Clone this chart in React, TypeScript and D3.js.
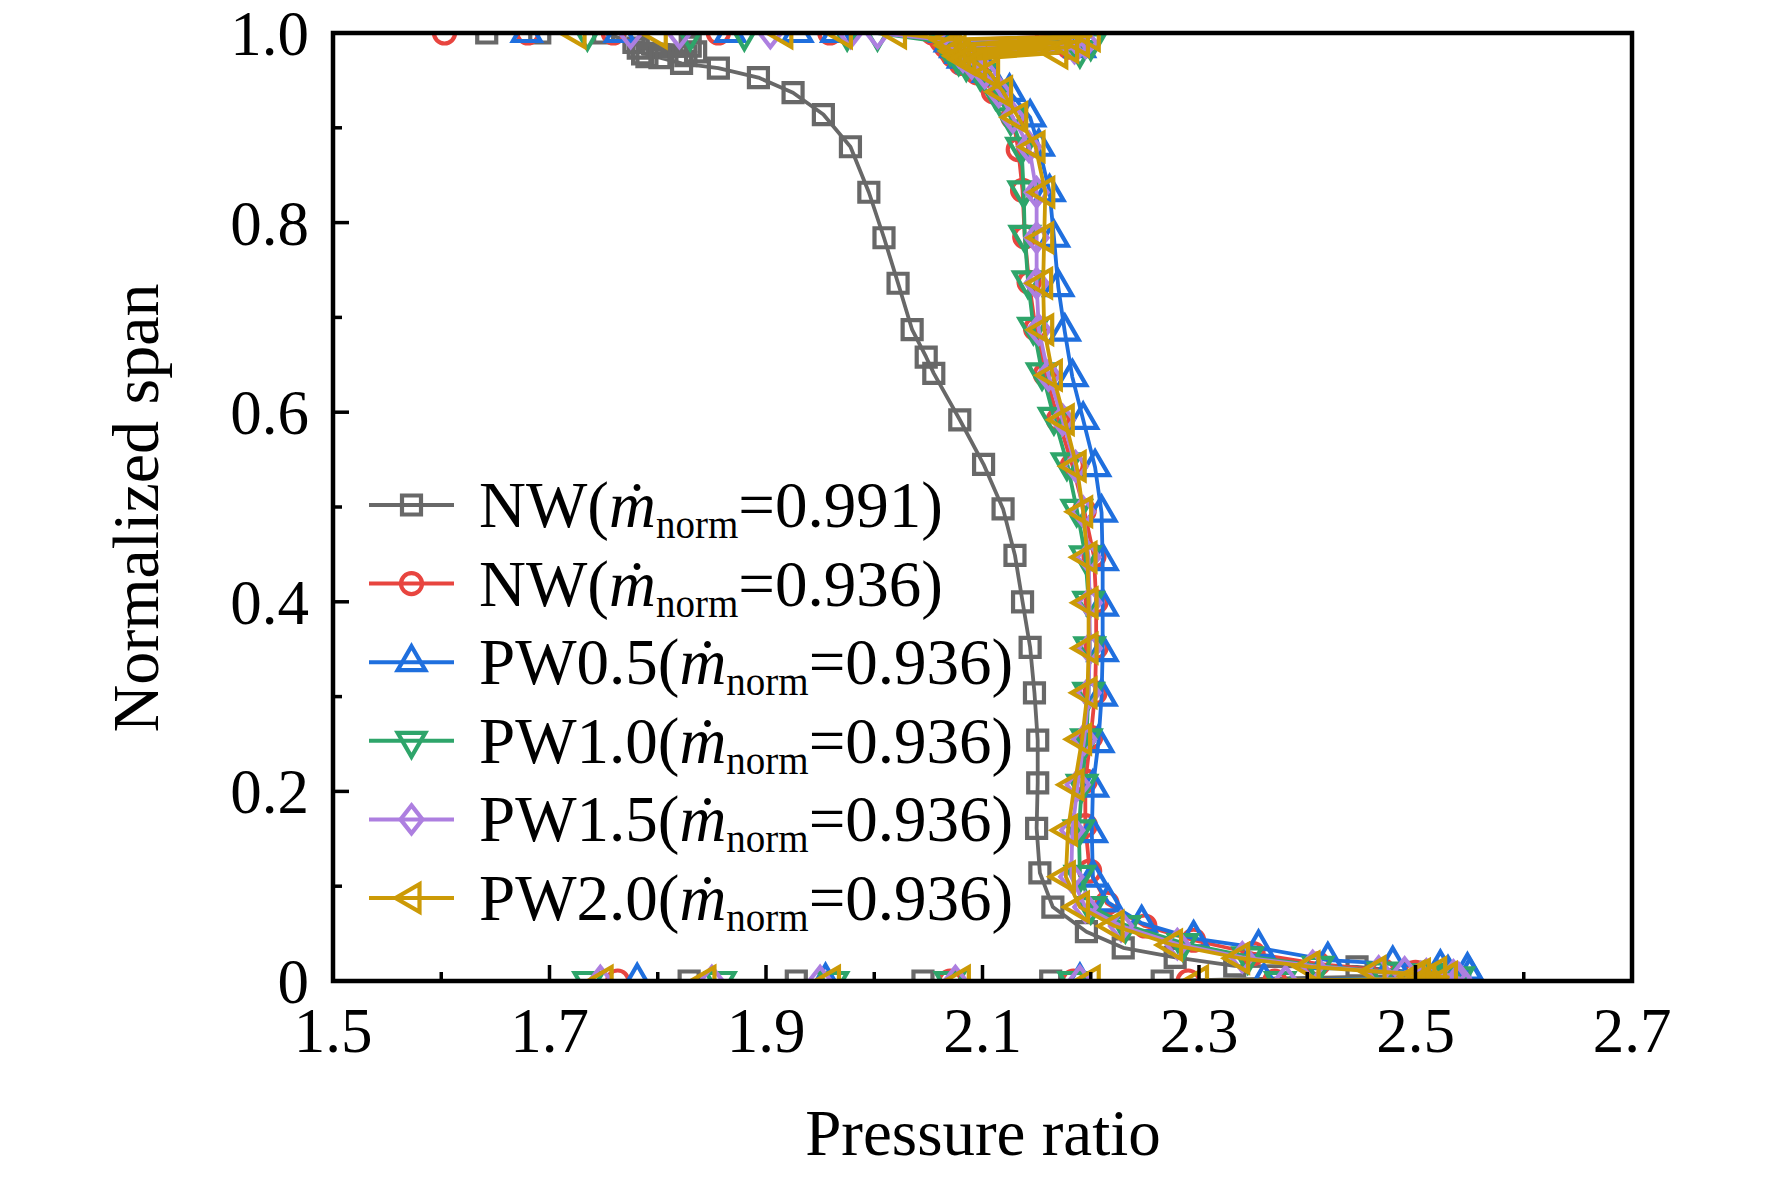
import React from "react";
import * as d3 from "d3";

type P = [number, number];

const X_MAJOR = [1.5, 1.7, 1.9, 2.1, 2.3, 2.5, 2.7];
const X_MINOR = [1.6, 1.8, 2.0, 2.2, 2.4, 2.6];
const Y_MAJOR = [0, 0.2, 0.4, 0.6, 0.8, 1.0];
const Y_LABELS = ["0", "0.2", "0.4", "0.6", "0.8", "1.0"];
const Y_MINOR = [0.1, 0.3, 0.5, 0.7, 0.9];

const SERIES_NAMES = ["NW", "NW", "PW0.5", "PW1.0", "PW1.5", "PW2.0"];
const SERIES_FLOW = ["0.991", "0.936", "0.936", "0.936", "0.936", "0.936"];
const SERIES_COLORS = ["#686868", "#e8453f", "#1f6fde", "#2ea56a", "#ad7fe0", "#cc9a06"];
const SERIES_SYMBOLS = ["square", "circle", "triUp", "triDown", "diamond", "triLeft"];

const NW991: P[] = [
  [1.642, 1], [1.691, 1], [1.75, 1],
  [1.778, 0.99], [1.83, 0.986], [1.782, 0.984], [1.835, 0.98], [1.786, 0.978], [1.826, 0.976], [1.79, 0.975],
  [1.802, 0.974], [1.822, 0.968], [1.856, 0.963], [1.893, 0.953], [1.925, 0.937], [1.953, 0.914],
  [1.978, 0.88], [1.995, 0.832], [2.009, 0.784], [2.022, 0.736], [2.035, 0.687], [2.048, 0.658],
  [2.055, 0.641], [2.079, 0.592], [2.101, 0.545], [2.119, 0.498], [2.13, 0.449], [2.137, 0.4],
  [2.144, 0.352], [2.148, 0.304], [2.151, 0.254], [2.151, 0.209], [2.15, 0.161], [2.153, 0.114],
  [2.165, 0.078], [2.196, 0.052], [2.23, 0.035], [2.278, 0.025], [2.333, 0.016], [2.446, 0.015],
  [2.5, 0.009], [2.52, 0.006],
  [2.266, 0], [2.163, 0], [2.045, 0], [1.928, 0], [1.829, 0],
];

const NW936: P[] = [
  [1.603, 1], [1.68, 1], [1.759, 1], [1.856, 1], [1.959, 1], [2.054, 1],
  [2.062, 0.992], [2.16, 0.996], [2.066, 0.986], [2.17, 0.99], [2.07, 0.981], [2.18, 0.985], [2.073, 0.976],
  [2.08, 0.968], [2.095, 0.958], [2.11, 0.938], [2.128, 0.911], [2.133, 0.877], [2.137, 0.834],
  [2.139, 0.785], [2.143, 0.737], [2.149, 0.688], [2.158, 0.64], [2.17, 0.592], [2.183, 0.544],
  [2.194, 0.496], [2.203, 0.448], [2.205, 0.4], [2.205, 0.352], [2.204, 0.304], [2.2, 0.257],
  [2.195, 0.211], [2.195, 0.164], [2.199, 0.116], [2.215, 0.082], [2.25, 0.058], [2.295, 0.043],
  [2.35, 0.029], [2.41, 0.018], [2.47, 0.011], [2.52, 0.007],
  [2.5, 0.009], [2.53, 0.006], [2.505, 0.004], [2.535, 0.003],
  [2.37, 0], [2.29, 0], [2.184, 0], [2.07, 0], [1.763, 0],
];

const PW05: P[] = [
  [1.679, 1], [1.765, 1], [1.867, 1], [1.929, 1], [1.965, 1], [2.065, 1],
  [2.07, 0.99], [2.17, 0.995], [2.075, 0.984], [2.185, 0.99], [2.08, 0.978], [2.19, 0.984], [2.082, 0.973],
  [2.09, 0.968], [2.105, 0.958], [2.125, 0.938], [2.144, 0.911], [2.152, 0.88], [2.162, 0.832],
  [2.166, 0.784], [2.17, 0.732], [2.176, 0.685], [2.183, 0.637], [2.193, 0.592], [2.204, 0.542],
  [2.21, 0.494], [2.211, 0.443], [2.211, 0.395], [2.211, 0.347], [2.21, 0.3], [2.207, 0.251],
  [2.202, 0.204], [2.201, 0.156], [2.202, 0.109], [2.216, 0.083], [2.247, 0.061], [2.295, 0.045],
  [2.355, 0.035], [2.419, 0.022], [2.479, 0.018], [2.523, 0.014], [2.548, 0.011],
  [2.53, 0.008], [2.55, 0.006], [2.52, 0.004],
  [2.36, 0], [2.19, 0], [1.955, 0], [1.781, 0],
];

const PW10: P[] = [
  [1.735, 1], [1.83, 1], [1.88, 1], [1.975, 1], [2.003, 1],
  [2.065, 0.99], [2.19, 0.996], [2.07, 0.984], [2.2, 0.99], [2.075, 0.979], [2.19, 0.982], [2.078, 0.974],
  [2.085, 0.968], [2.098, 0.958], [2.112, 0.938], [2.126, 0.911], [2.136, 0.88], [2.138, 0.834],
  [2.139, 0.787], [2.142, 0.739], [2.147, 0.69], [2.155, 0.642], [2.166, 0.595], [2.178, 0.547],
  [2.187, 0.498], [2.195, 0.449], [2.198, 0.401], [2.199, 0.353], [2.198, 0.305], [2.196, 0.256],
  [2.192, 0.208], [2.189, 0.16], [2.19, 0.112], [2.2, 0.079], [2.232, 0.059], [2.285, 0.04],
  [2.345, 0.026], [2.41, 0.016], [2.47, 0.01], [2.515, 0.007],
  [2.51, 0.008], [2.54, 0.005], [2.515, 0.003],
  [2.375, 0], [2.184, 0], [2.07, 0], [1.962, 0], [1.858, 0], [1.736, 0],
];

const PW15: P[] = [
  [1.775, 1], [1.82, 1], [1.904, 1], [1.978, 1], [2.003, 1],
  [2.07, 0.992], [2.185, 0.996], [2.074, 0.986], [2.195, 0.99], [2.078, 0.98], [2.185, 0.984], [2.082, 0.975],
  [2.09, 0.968], [2.102, 0.958], [2.115, 0.938], [2.128, 0.911], [2.143, 0.88], [2.15, 0.832],
  [2.15, 0.784], [2.15, 0.736], [2.152, 0.687], [2.161, 0.639], [2.174, 0.592], [2.186, 0.543],
  [2.193, 0.495], [2.198, 0.447], [2.199, 0.399], [2.199, 0.351], [2.198, 0.304], [2.194, 0.255],
  [2.188, 0.207], [2.183, 0.159], [2.182, 0.11], [2.195, 0.078], [2.228, 0.058], [2.28, 0.039],
  [2.34, 0.025], [2.405, 0.016], [2.466, 0.01], [2.51, 0.007],
  [2.49, 0.009], [2.535, 0.006], [2.505, 0.004], [2.54, 0.003],
  [2.38, 0], [2.19, 0], [2.075, 0], [1.95, 0], [1.85, 0], [1.747, 0],
];

const PW20: P[] = [
  [1.725, 1], [1.8, 1], [1.916, 1], [1.971, 1], [2.021, 1],
  [2.068, 0.993], [2.2, 0.997], [2.072, 0.987], [2.19, 0.991], [2.076, 0.981], [2.18, 0.985], [2.08, 0.976],
  [2.17, 0.979], [2.085, 0.972],
  [2.095, 0.968], [2.107, 0.958], [2.119, 0.938], [2.133, 0.911], [2.149, 0.88], [2.158, 0.832],
  [2.157, 0.784], [2.156, 0.736], [2.157, 0.687], [2.165, 0.639], [2.176, 0.592], [2.187, 0.543],
  [2.193, 0.495], [2.197, 0.447], [2.198, 0.399], [2.198, 0.351], [2.197, 0.304], [2.192, 0.255],
  [2.185, 0.207], [2.179, 0.159], [2.177, 0.11], [2.19, 0.078], [2.222, 0.058], [2.276, 0.038],
  [2.338, 0.024], [2.403, 0.015], [2.464, 0.01], [2.505, 0.007],
  [2.52, 0.009], [2.5, 0.005], [2.53, 0.004], [2.51, 0.002],
  [2.3, 0], [2.2, 0], [2.08, 0], [1.96, 0], [1.845, 0], [1.75, 0],
];

const SERIES_DATA: P[][] = [NW991, NW936, PW05, PW10, PW15, PW20];

const W = 1772;
const H = 1177;
const L = 333, R = 1632, T = 33, B = 981;
const FONT = "'Times New Roman', 'Liberation Serif', serif";
const SW = 4.2;

function symbolPath(kind: string): string {
  const r = 16;
  switch (kind) {
    case "square": return "M-9.5,-9.5h19v19h-19Z";
    case "triUp": return `M0,${-r}L${r * 0.866},${r * 0.5}L${-r * 0.866},${r * 0.5}Z`;
    case "triDown": return `M0,${r}L${r * 0.866},${-r * 0.5}L${-r * 0.866},${-r * 0.5}Z`;
    case "triLeft": return `M${-r},0L${r * 0.5},${-r * 0.866}L${r * 0.5},${r * 0.866}Z`;
    case "diamond": return "M0,-14L11,0L0,14L-11,0Z";
    default: return "";
  }
}

function Marker({ kind, x, y, color }: { kind: string; x: number; y: number; color: string }) {
  if (kind === "circle") {
    return <circle cx={x} cy={y} r={10.5} fill="none" stroke={color} strokeWidth={SW} />;
  }
  return <path d={symbolPath(kind)} transform={`translate(${x},${y})`} fill="none" stroke={color} strokeWidth={SW} strokeLinejoin="miter" />;
}

export default function App() {
  const x = d3.scaleLinear().domain([1.5, 2.7]).range([L, R]);
  const y = d3.scaleLinear().domain([0, 1]).range([B, T]);
  const line = d3.line<P>().x((d) => x(d[0])).y((d) => y(d[1]));

  const legY0 = 505, legStep = 78.6;

  return (
    <svg width={W} height={H} style={{ position: "absolute", left: 0, top: 0, background: "#fff" }} fontFamily={FONT}>
      <rect x={0} y={0} width={W} height={H} fill="#fff" />
      <defs>
        <clipPath id="plot">
          <rect x={L} y={T} width={R - L} height={B - T} />
        </clipPath>
      </defs>
      <g clipPath="url(#plot)">
        {SERIES_DATA.map((data, i) => (
          <g key={i}>
            <path d={line(data) || ""} fill="none" stroke={SERIES_COLORS[i]} strokeWidth={3.8} strokeLinejoin="round" />
            {data.map((d, j) => (
              <Marker key={j} kind={SERIES_SYMBOLS[i]} x={x(d[0])} y={y(d[1])} color={SERIES_COLORS[i]} />
            ))}
          </g>
        ))}
      </g>

      {X_MAJOR.map((v) => (
        <line key={"xM" + v} x1={x(v)} x2={x(v)} y1={B} y2={B - 16} stroke="#000" strokeWidth={3.5} />
      ))}
      {X_MINOR.map((v) => (
        <line key={"xm" + v} x1={x(v)} x2={x(v)} y1={B} y2={B - 9} stroke="#000" strokeWidth={3.5} />
      ))}
      {Y_MAJOR.map((v) => (
        <line key={"yM" + v} x1={L} x2={L + 16} y1={y(v)} y2={y(v)} stroke="#000" strokeWidth={3.5} />
      ))}
      {Y_MINOR.map((v) => (
        <line key={"ym" + v} x1={L} x2={L + 9} y1={y(v)} y2={y(v)} stroke="#000" strokeWidth={3.5} />
      ))}
      <rect x={L} y={T} width={R - L} height={B - T} fill="none" stroke="#000" strokeWidth={4.5} />

      {X_MAJOR.map((v) => (
        <text key={"xl" + v} x={x(v)} y={1052} fontSize={63} textAnchor="middle" fill="#000">{v.toFixed(1)}</text>
      ))}
      {Y_MAJOR.map((v, i) => (
        <text key={"yl" + v} x={309} y={y(v) + 22} fontSize={63} textAnchor="end" fill="#000">{Y_LABELS[i]}</text>
      ))}

      <text x={983} y={1155} fontSize={65} textAnchor="middle" fill="#000">Pressure ratio</text>
      <text transform={`translate(158,508) rotate(-90)`} fontSize={66} textAnchor="middle" fill="#000">Normalized span</text>

      {SERIES_NAMES.map((name, i) => {
        const ly = legY0 + i * legStep;
        return (
          <g key={"lg" + i}>
            <line x1={369} x2={454} y1={ly} y2={ly} stroke={SERIES_COLORS[i]} strokeWidth={4} />
            <Marker kind={SERIES_SYMBOLS[i]} x={411.5} y={ly} color={SERIES_COLORS[i]} />
            <text x={479} y={ly + 22} fontSize={65} fill="#000">
              <tspan>{name}(</tspan>
              <tspan fontStyle="italic">ṁ</tspan>
              <tspan fontSize={39} dy={11}>norm</tspan>
              <tspan dy={-11}>={SERIES_FLOW[i]})</tspan>
            </text>
          </g>
        );
      })}
    </svg>
  );
}
